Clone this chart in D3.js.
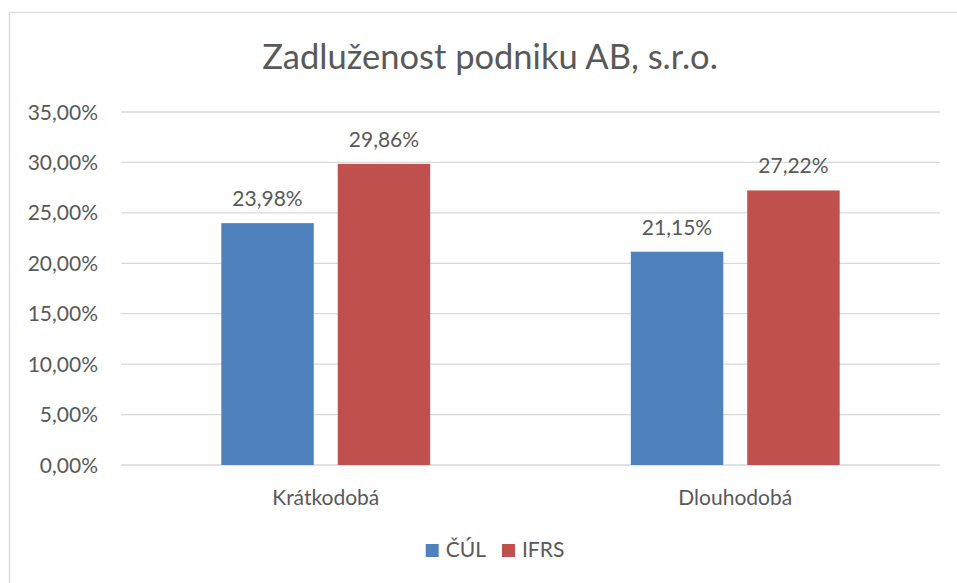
<!DOCTYPE html>
<html>
<head>
<meta charset="utf-8">
<script src="https://cdn.jsdelivr.net/npm/d3@7"></script>
<style>
  body { margin: 0; background: #fff; }
  svg { display: block; font-family: Lato, "Open Sans", sans-serif; }
  .grid line { stroke: #d9d9d9; stroke-width: 1.3px; }
  .lbl { fill: #595959; }
</style>
</head>
<body>
<svg id="chart" width="957" height="583"></svg>
<script>
// chart data
const categories = ["Krátkodobá", "Dlouhodobá"];
const seriesNames = ["ČÚL", "IFRS"];
const culValues = [23.98, 21.15];
const ifrsValues = [29.86, 27.22];
const yTickValues = [0, 5, 10, 15, 20, 25, 30, 35];
const colors = ["#4f81bd", "#c0504d"];

const svg = d3.select("#chart");
const plot = { left: 121, right: 940, top: 112, bottom: 465 };
const fmt = v => d3.format(".2f")(v).replace(".", ",") + "%";

// outer frame (right and bottom fall outside the picture)
svg.append("rect")
    .attr("x", 9.5).attr("y", 12.5)
    .attr("width", 980).attr("height", 600)
    .style("fill", "none")
    .style("stroke", "#d9d9d9")
    .style("stroke-width", "1.3px");

const y = d3.scaleLinear().domain([0, 35]).range([plot.bottom, plot.top]);
const x0 = d3.scaleBand().domain(categories)
    .range([plot.left, plot.right])
    .paddingInner(0.49).paddingOuter(0.245);
const x1 = d3.scaleBand().domain(seriesNames)
    .range([0, x0.bandwidth()])
    .paddingInner(0.206);

// gridlines
svg.append("g").attr("class", "grid")
  .selectAll("line")
  .data(yTickValues)
  .enter().append("line")
    .attr("x1", plot.left).attr("x2", plot.right)
    .attr("y1", d => y(d)).attr("y2", d => y(d));

// y tick labels
svg.append("g")
  .selectAll("text")
  .data(yTickValues)
  .enter().append("text")
    .attr("class", "lbl")
    .attr("x", 98)
    .attr("y", d => y(d) + 7.5)
    .attr("text-anchor", "end")
    .style("font-size", "21px")
    .text(d => fmt(d));

// bars
const rows = categories.map((c, i) => ({
    cat: c,
    vals: [{ s: seriesNames[0], v: culValues[i] }, { s: seriesNames[1], v: ifrsValues[i] }]
}));

const group = svg.append("g")
  .selectAll("g")
  .data(rows)
  .enter().append("g")
    .attr("transform", d => `translate(${x0(d.cat)},0)`);

group.selectAll("rect")
  .data(d => d.vals)
  .enter().append("rect")
    .attr("x", d => x1(d.s))
    .attr("y", d => y(d.v))
    .attr("width", x1.bandwidth())
    .attr("height", d => y(0) - y(d.v))
    .style("fill", (d, i) => colors[i]);

group.selectAll("text")
  .data(d => d.vals)
  .enter().append("text")
    .attr("class", "lbl")
    .attr("x", d => x1(d.s) + x1.bandwidth() / 2)
    .attr("y", d => y(d.v) - 17)
    .attr("text-anchor", "middle")
    .style("font-size", "21px")
    .text(d => fmt(d.v));

// category labels
svg.append("g")
  .selectAll("text")
  .data(categories)
  .enter().append("text")
    .attr("class", "lbl")
    .attr("x", d => x0(d) + x0.bandwidth() / 2)
    .attr("y", 505)
    .attr("text-anchor", "middle")
    .style("font-size", "21px")
    .text(d => d);

// title
svg.append("text")
    .attr("class", "lbl")
    .attr("x", 490)
    .attr("y", 69)
    .attr("text-anchor", "middle")
    .style("font-size", "34.5px")
    .text("Zadluženost podniku AB, s.r.o.");

// legend
const legend = svg.append("g");
const items = legend.selectAll("g")
  .data(seriesNames)
  .enter().append("g");
items.append("rect")
    .attr("y", 544).attr("width", 13).attr("height", 13)
    .style("fill", (d, i) => colors[i]);
items.append("text")
    .attr("class", "lbl")
    .attr("x", 20).attr("y", 557)
    .style("font-size", "21px")
    .text(d => d);
let lx = 0;
const offsets = [];
items.each(function () {
    offsets.push(lx);
    lx += 20 + this.querySelector("text").getComputedTextLength() + 16;
});
const legendWidth = lx - 16;
const legendStart = 495 - legendWidth / 2;
items.attr("transform", (d, i) => `translate(${legendStart + offsets[i]},0)`);
</script>
</body>
</html>
